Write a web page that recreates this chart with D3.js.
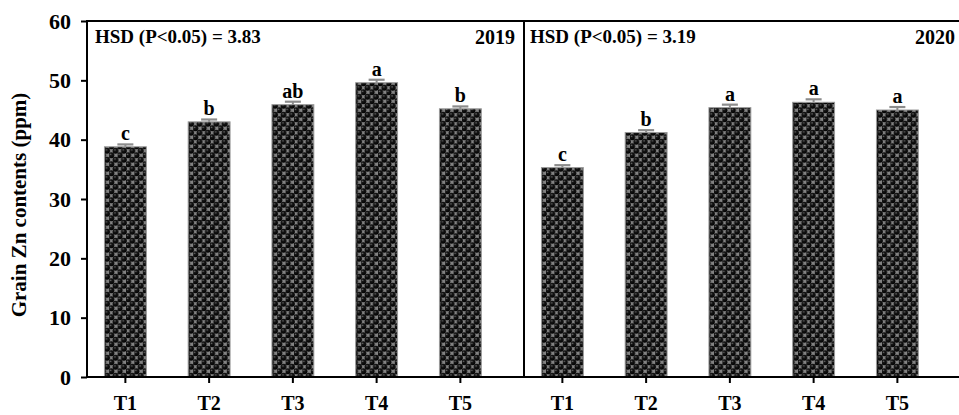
<!DOCTYPE html>
<html>
<head>
<meta charset="utf-8">
<script src="https://cdn.jsdelivr.net/npm/d3@7/dist/d3.min.js"></script>
<style>
  html, body { margin: 0; padding: 0; background: #fff; }
  svg { display: block; }
  text { font-family: "Liberation Serif", "Times New Roman", serif; font-weight: bold; fill: #000; }
</style>
</head>
<body>
<svg id="chart" width="959" height="415"></svg>
<script>
// Grain Zn contents (ppm) by treatment, two seasons
const treatments = ["T1", "T2", "T3", "T4", "T5"];
const zn2019 = [38.8, 43.0, 45.9, 49.6, 45.2];
const zn2020 = [35.3, 41.2, 45.4, 46.3, 45.0];
const se2019 = [0.4, 0.4, 0.5, 0.5, 0.4];
const se2020 = [0.4, 0.4, 0.5, 0.5, 0.5];
const letters2019 = ["c", "b", "ab", "a", "b"];
const letters2020 = ["c", "b", "a", "a", "a"];
const years = ["2019", "2020"];
const hsd = [3.83, 3.19];
const yTicks = [0, 10, 20, 30, 40, 50, 60];

const svg = d3.select("#chart");
const plotTop = 21, plotBottom = 377;
const panels = [
  { left: 87, right: 524, values: zn2019, se: se2019, letters: letters2019 },
  { left: 524, right: 962, values: zn2020, se: se2020, letters: letters2020 }
];

const y = d3.scaleLinear().domain([0, 60]).range([plotBottom, plotTop]);

// Bar fill: dark spheres on a grey ground
const defs = svg.append("defs");
const grad = defs.append("radialGradient").attr("id", "sphere")
  .attr("cx", "40%").attr("cy", "35%").attr("r", "65%");
grad.append("stop").attr("offset", "0%").attr("stop-color", "#707070");
grad.append("stop").attr("offset", "30%").attr("stop-color", "#161616");
grad.append("stop").attr("offset", "100%").attr("stop-color", "#000");
const pat = defs.append("pattern").attr("id", "dots")
  .attr("patternUnits", "userSpaceOnUse").attr("width", 8.4).attr("height", 9);
pat.append("rect").attr("width", 8.4).attr("height", 9).attr("fill", "#828282");
[[2.1, 2.25], [6.3, 6.75], [-2.1, 6.75], [10.5, 6.75], [6.3, -2.25], [-2.1, -2.25], [10.5, -2.25], [2.1, 11.25]]
  .forEach(([cx, cy]) => {
    pat.append("circle").attr("cx", cx).attr("cy", cy).attr("r", 2.95).attr("fill", "url(#sphere)");
  });

panels.forEach((p, i) => {
  const x = d3.scaleBand().domain(treatments)
    .range([p.left - 3.5, p.left - 3.5 + 5 * 83.75]).paddingInner(0.5).paddingOuter(0.25);
  const g = svg.append("g");

  // bars
  g.selectAll("rect.bar").data(treatments).join("rect")
    .attr("class", "bar")
    .attr("x", d => x(d))
    .attr("width", x.bandwidth())
    .attr("y", (d, j) => y(p.values[j]))
    .attr("height", (d, j) => y(0) - y(p.values[j]))
    .attr("fill", "url(#dots)")
    .attr("stroke", "#9a9a9a").attr("stroke-width", 1);

  // error bars and significance letters
  treatments.forEach((d, j) => {
    const cx = x(d) + x.bandwidth() / 2;
    const yt = y(p.values[j] + p.se[j]);
    g.append("line").attr("x1", cx).attr("x2", cx)
      .attr("y1", y(p.values[j])).attr("y2", yt)
      .attr("stroke", "#8c8c8c").attr("stroke-width", 2);
    g.append("line").attr("x1", cx - 8).attr("x2", cx + 8)
      .attr("y1", yt).attr("y2", yt)
      .attr("stroke", "#8c8c8c").attr("stroke-width", 2.2);
    g.append("text").attr("x", cx).attr("y", yt - 4)
      .attr("text-anchor", "middle").attr("font-size", 20)
      .text(p.letters[j]);
  });

  // x axis
  const xa = svg.append("g").attr("transform", `translate(0,${plotBottom})`)
    .call(d3.axisBottom(x).tickSize(6).tickSizeOuter(0));
  xa.select(".domain").remove();
  xa.selectAll(".tick line").attr("stroke", "#000").attr("stroke-width", 2);
  xa.selectAll(".tick text").attr("y", 33).attr("dy", 0)
    .attr("font-size", 20).attr("font-family", "Liberation Serif").attr("font-weight", "bold");

  // frame
  svg.append("path")
    .attr("d", `M${p.left},${plotTop}H${p.right}V${plotBottom}H${p.left}Z`)
    .attr("fill", "none").attr("stroke", "#000").attr("stroke-width", 2);

  // annotations
  svg.append("text").attr("x", p.left + (i === 0 ? 8 : 6)).attr("y", 43)
    .attr("font-size", 19).text(`HSD (P<0.05) = ${hsd[i].toFixed(2)}`);
  svg.append("text").attr("x", i === 0 ? p.right - 9 : 955).attr("y", 44)
    .attr("text-anchor", "end").attr("font-size", 20).text(years[i]);
});

// y axis
const ya = svg.append("g").attr("transform", `translate(${panels[0].left},0)`)
  .call(d3.axisLeft(y).tickValues(yTicks).tickSize(6).tickPadding(10).tickSizeOuter(0));
ya.select(".domain").remove();
ya.selectAll(".tick line").attr("stroke", "#000").attr("stroke-width", 2);
ya.selectAll(".tick text").attr("font-size", 22)
  .attr("font-family", "Liberation Serif").attr("font-weight", "bold");

svg.append("text")
  .attr("transform", `translate(26,${(plotTop + plotBottom) / 2 + 6}) rotate(-90)`)
  .attr("text-anchor", "middle").attr("font-size", 21)
  .text("Grain Zn contents (ppm)");
</script>
</body>
</html>
